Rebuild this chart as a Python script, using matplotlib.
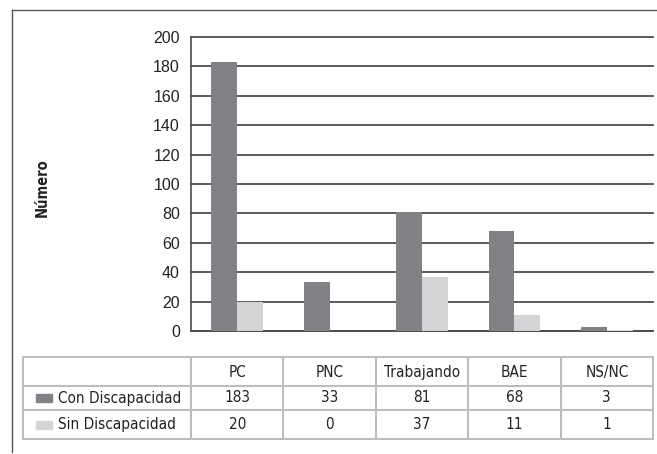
import matplotlib.pyplot as plt
from matplotlib.patches import Rectangle
from matplotlib.lines import Line2D
from matplotlib import font_manager

categorias = ["PC", "PNC", "Trabajando", "BAE", "NS/NC"]
series = ["Con Discapacidad", "Sin Discapacidad"]
con_disc = [183, 33, 81, 68, 3]
sin_disc = [20, 0, 37, 11, 1]
colores = ["#828286", "#d3d4d6"]

nombres = {f.name for f in font_manager.fontManager.ttflist}
if "Liberation Sans Narrow" in nombres:
    narrow = dict(family=["Liberation Sans Narrow", "DejaVu Sans"])
else:
    narrow = dict(family=["DejaVu Sans"], stretch="condensed")

W, H = 657, 454
fig = plt.figure(figsize=(W / 100, H / 100), dpi=100)

# outer frame (top and left only visible)
fig.add_artist(Line2D([12 / W, 1.0], [1 - 10 / H, 1 - 10 / H], color="#555555", lw=1.0))
fig.add_artist(Line2D([12 / W, 12 / W], [1 - 10 / H, 1 - 452 / H], color="#555555", lw=1.0))

# bar area
x0, x1, ytop, ybot = 191, 653, 37, 331
ax = fig.add_axes([x0 / W, 1 - ybot / H, (x1 - x0) / W, (ybot - ytop) / H])
n = len(categorias)
bw = 0.28
xs = list(range(n))
ax.bar([x - bw / 2 for x in xs], con_disc, bw, color=colores[0], zorder=3)
ax.bar([x + bw / 2 for x in xs], sin_disc, bw, color=colores[1], zorder=3)
ax.set_xlim(-0.5, n - 0.5)
ax.set_ylim(0, 200)
ax.set_yticks(range(0, 201, 20))
ax.set_xticks([])
ax.yaxis.grid(True, color="#4d4d4d", lw=1.3, zorder=1)
for gl in ax.get_ygridlines():
    gl.set_clip_on(False)
for s in ["top", "right"]:
    ax.spines[s].set_visible(False)
ax.spines["left"].set_color("#4d4d4d")
ax.spines["bottom"].set_color("#4d4d4d")
ax.spines["left"].set_linewidth(1.2)
ax.spines["bottom"].set_linewidth(1.3)
ax.tick_params(axis="y", length=0, pad=8, labelsize=11.5, labelcolor="#222222")
for lab in ax.get_yticklabels():
    lab.set_family(["Liberation Sans", "DejaVu Sans"])
fig.text(42 / W, 1 - 188 / H, "Número", rotation=90, ha="center", va="center",
         fontsize=10.5, fontweight="bold", color="#222222", **narrow)

# data table
t_left, t_top, t_bot = 23, 357, 439
row_edges = [357, 386, 410, 439]
pxc = (x1 - x0) / n
tax = fig.add_axes([t_left / W, 1 - t_bot / H, (x1 - t_left) / W, (t_bot - t_top) / H])
lft = -0.5 - (x0 - t_left) / pxc
tax.set_xlim(lft, n - 0.5)
tax.set_ylim(t_bot, t_top)
tax.axis("off")
lc = "#bdbdbd"
for y in row_edges:
    tax.plot([lft, n - 0.5], [y, y], color=lc, lw=1.5, clip_on=False)
for xv in [lft] + [i - 0.5 for i in range(n + 1)]:
    tax.plot([xv, xv], [row_edges[0], row_edges[-1]], color=lc, lw=1.5, clip_on=False)

fs = 11
for i, c in enumerate(categorias):
    tax.text(i, (row_edges[0] + row_edges[1]) / 2 + 1, c, ha="center", va="center",
             fontsize=fs, color="#222222", **narrow)
for r, (nombre, vals) in enumerate(zip(series, [con_disc, sin_disc])):
    yc = (row_edges[r + 1] + row_edges[r + 2]) / 2
    sw = 16 / pxc
    sx = lft + 13 / pxc
    tax.add_patch(Rectangle((sx, yc - 4), sw, 8, color=colores[r], clip_on=False))
    tax.text(sx + sw + 6 / pxc, yc, nombre, ha="left", va="center",
             fontsize=fs, color="#222222", **narrow)
    for i, v in enumerate(vals):
        tax.text(i, yc, str(v), ha="center", va="center",
                 fontsize=fs, color="#222222", **narrow)

fig.savefig("out.png", dpi=100)
